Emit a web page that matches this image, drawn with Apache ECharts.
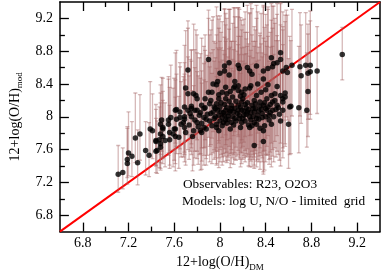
<!DOCTYPE html>
<html><head><meta charset="utf-8">
<script src="https://cdn.jsdelivr.net/npm/echarts@6/dist/echarts.min.js"></script>
<style>html,body{margin:0;padding:0;background:#fff}#c{width:382px;height:277px}</style>
</head><body><div id="c"></div>
<script>
const xs = [7.11,7.15,7.19,7.19,7.20,7.23,7.28,7.26,7.30,7.35,7.38,7.39,7.45,7.44,7.47,7.48,7.50,7.50,7.49,7.56,
7.56,7.60,7.61,7.61,7.65,7.69,7.69,7.72,7.44,7.52,7.48,7.44,7.48,7.50,7.55,7.57,7.62,7.55,7.48,7.41,
7.65,7.66,7.69,7.69,7.75,7.72,7.70,7.77,7.80,7.72,7.75,7.78,7.84,7.87,7.80,7.86,7.91,7.77,7.84,7.70,
7.64,7.59,7.61,7.83,7.88,7.62,7.75,7.79,7.80,7.86,7.86,7.91,7.90,7.87,7.93,7.94,7.97,7.98,7.90,7.99,
7.73,7.78,7.82,7.68,7.74,7.92,7.97,8.05,7.99,7.98,8.02,8.05,8.05,8.10,8.10,8.19,8.19,8.19,8.30,8.30,
8.37,8.38,8.26,8.38,8.41,8.46,8.50,8.55,8.55,8.57,8.53,8.02,7.97,7.95,8.32,8.39,8.35,8.30,8.28,8.45,
8.53,8.60,8.38,8.61,8.45,8.55,8.57,8.35,8.06,8.08,8.12,8.13,8.16,8.19,8.26,8.13,8.16,8.27,8.02,8.38,
8.42,8.50,8.48,8.62,8.76,8.77,8.69,8.00,8.03,8.07,8.09,8.11,8.13,8.15,8.17,8.14,8.21,8.23,8.24,8.26,
8.22,8.28,8.31,8.33,8.34,8.36,8.40,8.42,8.44,8.47,8.49,8.52,8.43,8.25,8.12,8.06,7.96,7.94,8.01,8.08,
8.16,8.20,8.24,8.30,8.32,8.41,8.36,8.21,8.11,8.04,7.95,7.89,7.84,8.18,8.09,7.99,8.00,8.08,8.04,8.04,
8.16,8.17,8.24,8.26,8.32,8.38,8.42,8.45,8.47,8.46,8.53,8.53,8.55,8.59,8.63,8.70,8.71,8.75,8.79,8.77,
8.79,8.85,9.07,8.58,8.50,8.28,
7.88,7.93,7.96,8.00,8.01,8.03,8.04,8.06,8.07,8.08,8.10,8.12,8.13,8.14,8.16,8.17,8.18,8.20,8.21,8.22,
8.23,8.25,8.27,8.27,8.29,8.29,8.31,8.32,8.34,8.35,8.37,8.39,8.40,8.43,8.44,8.46,8.48,8.51,8.18,8.09,
7.99,7.92,7.97,8.05,8.22,8.33,8.40,7.83,7.81,7.76];
const ys = [7.30,7.32,7.43,7.48,7.56,7.52,7.44,7.74,7.79,7.59,7.53,7.85,7.59,7.70,7.72,7.67,7.76,7.87,7.96,7.72,
7.81,7.85,7.76,8.08,8.06,8.12,7.97,8.08,7.71,7.71,7.63,7.58,7.79,7.85,7.91,7.99,7.97,7.96,7.91,7.83,
7.99,7.91,7.87,8.00,8.10,8.28,8.35,8.28,8.22,8.57,8.13,8.08,8.14,8.11,7.93,7.87,7.95,7.83,7.81,7.81,
7.75,7.79,7.85,7.83,7.85,8.09,8.00,8.26,8.08,8.10,7.99,8.16,8.30,8.22,8.30,8.40,8.39,8.43,8.70,8.22,
7.90,7.96,8.02,7.93,8.04,8.04,7.91,7.96,8.02,8.08,7.99,8.08,8.22,8.14,7.93,8.18,8.08,7.93,7.93,8.06,
7.99,7.83,7.87,8.14,8.08,8.18,8.14,8.18,8.08,8.24,8.26,7.89,7.87,7.98,7.91,7.89,7.86,7.65,7.89,7.91,
7.95,7.91,7.70,8.12,8.26,8.22,8.29,8.18,8.28,8.51,8.35,8.43,8.38,8.30,8.35,8.37,8.32,8.38,8.30,8.46,
8.39,8.37,8.28,8.13,8.08,8.31,8.11,8.12,8.05,8.01,8.07,8.00,8.10,8.04,7.98,7.95,8.02,8.11,8.06,8.00,
7.95,8.14,8.10,8.02,7.97,8.09,8.00,8.12,8.05,8.00,8.09,8.03,7.96,7.90,7.90,7.92,8.00,8.06,8.17,8.19,
8.14,8.22,8.17,8.20,8.26,8.22,8.30,8.27,8.24,8.15,8.12,8.03,7.92,7.87,7.85,7.83,8.53,8.66,8.62,8.56,
8.63,8.59,8.60,8.56,8.62,8.56,8.59,8.72,8.65,8.61,8.78,8.70,8.56,8.54,8.63,8.61,8.50,8.63,8.63,8.53,
8.55,8.56,8.76,8.60,8.66,8.52,
7.97,7.89,8.10,7.95,8.06,7.93,8.02,8.11,7.97,8.05,8.10,8.06,7.98,8.19,8.08,8.02,8.12,7.98,8.07,8.15,
8.03,8.09,7.96,8.05,8.00,8.10,8.16,7.98,8.07,8.13,8.04,8.17,8.10,8.02,8.15,8.08,8.20,8.11,8.25,8.31,
8.27,8.20,8.16,8.36,8.34,8.40,8.33,8.05,7.88,7.76];
const errUp = [.35,.30,.45,.38,.50,.42,.40,.55,.48,.35,.40,.58,.36,.45,.40,.50,.44,.60,.52,.42,
.55,.62,.48,.70,.60,.75,.55,.65,.38,.46,.34,.40,.50,.46,.58,.64,.55,.50,.48,.45,
.62,.52,.58,.66,.72,.80,.70,.85,.78,.60,.68,.74,.82,.70,.62,.58,.66,.55,.60,.52,
.50,.56,.60,.64,.58,.72,.68,.80,.70,.76,.66,.84,.90,.78,.88,.82,.95,.80,.60,.86,
.60,.64,.70,.56,.66,.74,.68,.72,.80,.76,.70,.84,.90,.78,.66,.88,.76,.70,.72,.80,
.74,.66,.68,.82,.78,.90,.85,.88,.80,.92,.86,.64,.62,.70,.70,.72,.66,.60,.68,.74,
.78,.80,.62,.86,.92,.88,.95,.84,.92,.80,.98,.90,.95,.88,.92,.85,.90,1.00,.86,.90,
.95,.88,.92,.80,.70,.70,.75,.80,.76,.72,.78,.70,.82,.76,.70,.68,.74,.84,.80,.74,
.70,.86,.82,.76,.72,.80,.76,.86,.80,.76,.84,.78,.72,.68,.66,.68,.72,.76,.86,.88,
.84,.90,.86,.90,.94,.90,.96,.92,.90,.82,.80,.72,.64,.66,.64,.62,.70,.65,.70,.75,
.70,.72,.76,.70,.74,.78,.72,.66,.70,.74,.62,.68,.72,.70,.68,.66,.62,.64,.66,.60,
.62,.54,.33,.70,.72,.80,
.70,.64,.80,.72,.78,.66,.74,.84,.70,.78,.82,.76,.70,.90,.80,.74,.86,.70,.78,.88,
.74,.80,.68,.76,.72,.82,.90,.70,.78,.86,.74,.92,.82,.72,.88,.78,.94,.82,.96,1.00,
.92,.86,.84,.90,.94,.88,.92,.72,.62,.56];
const errDown = [.22,.20,.25,.22,.28,.25,.27,.30,.32,.30,.26,.34,.28,.30,.34,.30,.33,.36,.38,.35,
.40,.38,.42,.40,.45,.42,.40,.48,.30,.32,.28,.26,.35,.36,.38,.40,.42,.40,.37,.34,
.44,.40,.42,.46,.48,.50,.52,.48,.50,.55,.46,.50,.52,.48,.44,.46,.50,.42,.45,.40,
.38,.40,.42,.48,.44,.45,.46,.52,.50,.48,.46,.52,.55,.50,.56,.58,.55,.60,.50,.54,
.42,.46,.48,.42,.46,.50,.48,.50,.52,.50,.48,.52,.56,.54,.50,.56,.52,.50,.52,.55,
.54,.50,.48,.56,.55,.58,.56,.60,.58,.60,.58,.48,.46,.50,.52,.54,.50,.28,.50,.52,
.55,.54,.40,.58,.58,.60,.62,.56,.56,.55,.58,.56,.60,.58,.58,.55,.56,.60,.55,.60,
.62,.60,.58,.58,.45,.55,.55,.52,.50,.50,.52,.50,.54,.52,.50,.48,.52,.56,.54,.52,
.50,.56,.55,.54,.52,.56,.55,.58,.56,.55,.58,.56,.54,.50,.48,.48,.50,.50,.54,.55,
.55,.58,.56,.58,.60,.58,.60,.58,.56,.54,.52,.50,.46,.48,.47,.45,.55,.55,.56,.55,
.58,.56,.58,.60,.58,.60,.58,.62,.60,.58,.64,.60,.60,.58,.62,.60,.58,.58,.60,.56,
.58,.52,.31,.60,.60,.58,
.48,.46,.52,.50,.52,.48,.50,.54,.50,.52,.54,.52,.50,.56,.54,.52,.55,.50,.54,.56,
.52,.55,.50,.54,.52,.56,.57,.52,.55,.57,.54,.58,.56,.54,.58,.56,.58,.57,.57,.58,
.56,.54,.54,.58,.58,.60,.59,.50,.46,.42];
const diagonal = [[6.6,6.6],[9.4,9.4]];
const xMajor = [6.8,7.2,7.6,8.0,8.4,8.8,9.2];
const xMinor = [7.0,7.4,7.8,8.2,8.6,9.0];
const yMajor = [6.8,7.2,7.6,8.0,8.4,8.8,9.2];
const yMinor = [7.0,7.4,7.8,8.2,8.6,9.0];
const noteLines = ['Observables: R23, O2O3', 'Models: log U, N/O - limited  grid'];

const FONT = 'Liberation Serif';
const AX = {min:6.6, max:9.4};
const lineSt = {color:'#000', width:1.5};
function ax(pos, major, ticks, labels, lineShow){
  return {type:'value', position:pos, min:AX.min, max:AX.max, gridIndex:0,
    axisLine:{show:lineShow, onZero:false, lineStyle:lineSt},
    axisTick:{show:true, inside:true, length: major ? 9 : 5, customValues: ticks, lineStyle:{color:'#000', width:1.3}},
    axisLabel: labels ? {show:true, customValues: ticks, fontFamily:FONT, fontSize:14, color:'#000', margin: (pos==='left'?7:5)} : {show:false},
    splitLine:{show:false}, minorTick:{show:false}};
}
const xAxes = [
  Object.assign(ax('bottom', true, xMajor, true, true), {
    name:'{a|12+log(O/H)}{b|DM}', nameLocation:'middle', nameGap:17,
    nameTextStyle:{rich:{a:{fontFamily:FONT,fontSize:14,color:'#000'},b:{fontFamily:FONT,fontSize:9,color:'#000',padding:[10,0,0,0]}}}
  }),
  ax('bottom', false, xMinor, false, false),
  ax('top', true, xMajor, false, true),
  ax('top', false, xMinor, false, false)
];
const yAxes = [
  Object.assign(ax('left', true, yMajor, true, true), {
    name:'{a|12+log(O/H)}{b|mod}', nameLocation:'middle', nameGap:24, nameRotate:90,
    nameTextStyle:{rich:{a:{fontFamily:FONT,fontSize:14,color:'#000'},b:{fontFamily:FONT,fontSize:9,color:'#000',padding:[10,0,0,0]}}}
  }),
  ax('left', false, yMinor, false, false),
  ax('right', true, yMajor, false, true),
  ax('right', false, yMinor, false, false)
];

const barData = xs.map((x,i)=>[x, ys[i]-errDown[i], ys[i]+errUp[i]]);
const ptData = xs.map((x,i)=>[x, ys[i]]);
const BAR = 'rgba(165,100,100,0.45)';

const chart = echarts.init(document.getElementById('c'), null, {renderer:'canvas'});
chart.setOption({
  animation:false,
  backgroundColor:'#fff',
  grid:{left:41.5, right:2, top:2, bottom:35, containLabel:false},
  xAxis:xAxes, yAxis:yAxes,
  series:[
    {type:'line', data:diagonal, xAxisIndex:0, yAxisIndex:0, symbol:'none', lineStyle:{color:'#ff0000', width:2}, z:1, silent:true},
    {type:'custom', xAxisIndex:0, yAxisIndex:0, data:barData, clip:true, z:2, encode:{x:0, y:[1,2]},
      renderItem:function(params, api){
        const x = api.value(0);
        const b = api.coord([x, api.value(1)]);
        const t = api.coord([x, api.value(2)]);
        const hw = 2;
        const st = {stroke:BAR, lineWidth:1.3};
        return {type:'group', children:[
          {type:'line', shape:{x1:t[0],y1:t[1],x2:b[0],y2:b[1]}, style:st},
          {type:'line', shape:{x1:t[0]-hw,y1:t[1],x2:t[0]+hw,y2:t[1]}, style:st},
          {type:'line', shape:{x1:b[0]-hw,y1:b[1],x2:b[0]+hw,y2:b[1]}, style:st}
        ]};
      }},
    {type:'scatter', data:ptData, xAxisIndex:0, yAxisIndex:0, symbol:'circle', symbolSize:5.5, itemStyle:{color:'#000'}, z:3}
  ],
  graphic:[
    {type:'text', left:183, top:178, style:{text:noteLines[0], font:'13.3px "Liberation Serif"', fill:'#000'}},
    {type:'text', left:182, top:195, style:{text:noteLines[1], font:'13.3px "Liberation Serif"', fill:'#000'}}
  ]
});
</script></body></html>
